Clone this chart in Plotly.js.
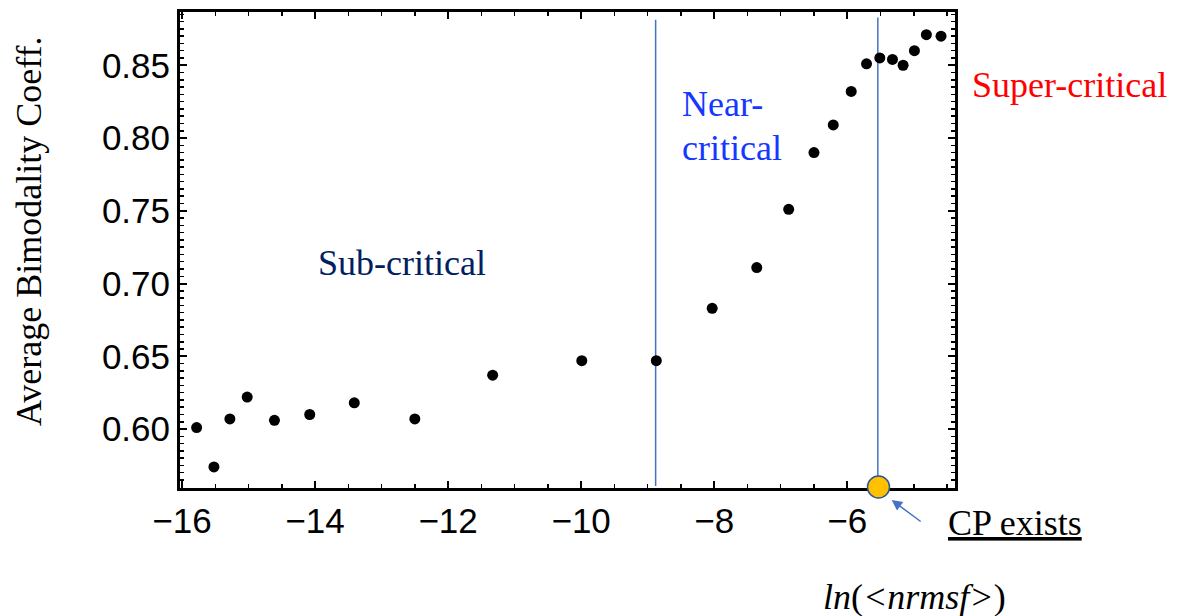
<!DOCTYPE html>
<html>
<head>
<meta charset="utf-8">
<script src="https://cdn.plot.ly/plotly-3.0.1.min.js"></script>
<style>html,body{margin:0;padding:0;background:#fff;}#chart{width:1177px;height:616px;}</style>
</head>
<body>
<div id="chart"></div>
<script>
// Data
const lnNrmsf = [-15.78,-15.52,-15.28,-15.02,-14.61,-14.08,-13.41,-12.50,-11.33,-9.99,-8.87,-8.03,-7.36,-6.88,-6.50,-6.21,-5.94,-5.71,-5.51,-5.32,-5.16,-4.99,-4.81,-4.59];
const bimodality = [0.601,0.574,0.607,0.622,0.606,0.610,0.618,0.607,0.637,0.647,0.647,0.683,0.711,0.751,0.790,0.809,0.832,0.851,0.855,0.854,0.850,0.860,0.871,0.870];
const regionBoundaries = [-8.88, -5.54];
const cpPoint = {x: [-5.53], y: [0.5602]};
const regionLabels = ["Sub-critical", "Near-", "critical", "Super-critical"];

const serif = "Liberation Serif, Times New Roman, serif";
const sans = "Liberation Sans, Arial, sans-serif";
const lineBlue = "#4472C4";

const traces = [
  {x: lnNrmsf, y: bimodality, type: "scatter", mode: "markers",
   marker: {color: "#000", size: 11}, hoverinfo: "x+y", showlegend: false},
  {x: cpPoint.x, y: cpPoint.y, type: "scatter", mode: "markers", cliponaxis: false,
   marker: {color: "#FFC000", size: 22, line: {color: "#2F5597", width: 1.5}}, showlegend: false}
];

const shapes = [
  {type: "line", layer: "below", xref: "x", yref: "y", x0: regionBoundaries[0], x1: regionBoundaries[0], y0: 0.5608, y1: 0.8813,
   line: {color: lineBlue, width: 1.5}},
  {type: "line", layer: "below", xref: "x", yref: "y", x0: regionBoundaries[1], x1: regionBoundaries[1], y0: 0.5602, y1: 0.8829,
   line: {color: lineBlue, width: 1.5}}
];

const annotations = [
  {text: regionLabels[0], x: -12.69, y: 0.714, xref: "x", yref: "y", xanchor: "center", yanchor: "middle", showarrow: false,
   font: {family: serif, size: 36, color: "#002060"}},
  {text: regionLabels[1], x: -8.51, y: 0.8232, xref: "x", yref: "y", xanchor: "left", yanchor: "middle", showarrow: false,
   font: {family: serif, size: 36, color: "#1438FF"}},
  {text: regionLabels[2], x: -8.51, y: 0.793, xref: "x", yref: "y", xanchor: "left", yanchor: "middle", showarrow: false,
   font: {family: serif, size: 36, color: "#1438FF"}},
  {text: regionLabels[3], x: 1.148, y: 0.847, xref: "paper", yref: "paper", xanchor: "center", yanchor: "middle", showarrow: false,
   font: {family: serif, size: 36, color: "#FF0000"}},
  {text: "<u>CP exists</u>", x: 1.077, y: -0.0735, xref: "paper", yref: "paper", xanchor: "center", yanchor: "middle", showarrow: false,
   font: {family: serif, size: 36, color: "#000"}},
  {text: "<i>ln</i>(<i>&lt;nrmsf&gt;</i>)", x: 0.948, y: -0.229, xref: "paper", yref: "paper", xanchor: "center", yanchor: "middle", showarrow: false,
   font: {family: serif, size: 36, color: "#000"}},
  {text: "Average Bimodality Coeff.", x: -0.1948, y: 0.54, xref: "paper", yref: "paper", xanchor: "center", yanchor: "middle", textangle: -90, showarrow: false,
   font: {family: serif, size: 36, color: "#000"}},
  {text: " ", x: 0.9183, y: -0.0252, xref: "paper", yref: "paper", showarrow: true, ax: 31, ay: 23,
   arrowhead: 2, arrowsize: 1.4, arrowwidth: 1.5, arrowcolor: lineBlue, standoff: 0, startstandoff: 0,
   font: {size: 2}}
];

const layout = {
  width: 1177, height: 616,
  margin: {l: 180, r: 222, t: 12, b: 128},
  paper_bgcolor: "#fff", plot_bgcolor: "#fff",
  showlegend: false,
  xaxis: {range: [-16.03, -4.38], tick0: -16, dtick: 2, showgrid: false, zeroline: false,
    showline: true, linecolor: "#000", linewidth: 3, mirror: "ticks", layer: "below traces",
    ticks: "inside", ticklen: 7, tickwidth: 2, tickcolor: "#000",
    minor: {dtick: 0.5, ticks: "inside", ticklen: 4, tickwidth: 1.5, tickcolor: "#000", showgrid: false},
    tickfont: {family: sans, size: 35, color: "#000"}},
  yaxis: {range: [0.5595, 0.8866], tick0: 0.6, dtick: 0.05, tickformat: ".2f", showgrid: false, zeroline: false,
    showline: true, linecolor: "#000", linewidth: 3, mirror: "ticks", layer: "below traces",
    ticks: "inside", ticklen: 7, tickwidth: 2, tickcolor: "#000",
    minor: {dtick: 0.005, ticks: "inside", ticklen: 4, tickwidth: 1.5, tickcolor: "#000", showgrid: false},
    tickfont: {family: sans, size: 35, color: "#000"}},
  shapes: shapes,
  annotations: annotations
};

Plotly.newPlot("chart", traces, layout, {displayModeBar: false, staticPlot: true});
</script>
</body>
</html>
